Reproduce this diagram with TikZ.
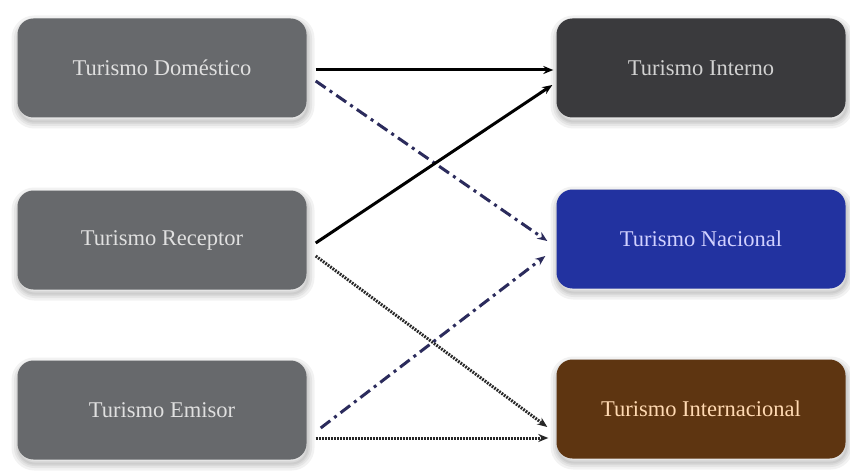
\documentclass[tikz,border=0pt]{standalone}
\usepackage{fontspec}
\setmainfont{Liberation Serif}
\usetikzlibrary{arrows.meta}
\definecolor{srcgray}{HTML}{67696C}
\definecolor{intdark}{HTML}{3A3A3D}
\definecolor{natblue}{HTML}{2232A0}
\definecolor{intbrown}{HTML}{5E3511}
\definecolor{navyline}{HTML}{2B2B5C}
\begin{document}
\begin{tikzpicture}[x=1pt,y=1pt,
  softshadow/.style={preaction={draw=black, line width=#1, draw opacity=0.05,
      transform canvas={xshift=1pt,yshift=-4pt}}},
  box/.style={rounded corners=16pt, minimum width=289pt, minimum height=99pt,
    inner sep=0pt, font=\fontsize{22.5}{26}\selectfont,
    softshadow=14pt, softshadow=9pt, softshadow=5pt, softshadow=2pt},
  srcbox/.style={box, fill=srcgray, text=white!88!black},
  tip/.style={-{Stealth[length=10pt,width=8pt]}},
  solidarrow/.style={tip, line width=3pt, black},
  dasharrow/.style={tip, line width=3pt, navyline,
    dash pattern=on 12pt off 5pt on 3pt off 5pt},
  dotarrow/.style={tip, line width=3pt, black!85,
    dash pattern=on 1.8pt off 1.2pt}
]
\useasboundingbox (0,0) rectangle (850,472);
\fill[white] (0,0) rectangle (850,472);

% source types (left column)
\node[srcbox] (dom) at (162,404) {Turismo Doméstico};
\node[srcbox] (rec) at (162,232) {Turismo Receptor};
\node[srcbox] (emi) at (162,62) {Turismo Emisor};

% resulting categories (right column)
\node[box, fill=intdark, text=white!82!black] (int) at (701,404) {Turismo Interno};
\node[box, fill=natblue, text=blue!18!white] (nac) at (701,233) {Turismo Nacional};
\node[box, fill=intbrown, text=orange!30!white] (inl) at (701,63) {Turismo Internacional};

% connectors
\draw[solidarrow] ([xshift=9pt,yshift=-2pt]dom.east) -- ([xshift=-3pt,yshift=-2pt]int.west);
\draw[dasharrow] ([xshift=9pt,yshift=-13pt]dom.east) -- ([xshift=-9pt,yshift=-2pt]nac.west);
\draw[solidarrow] ([xshift=9pt,yshift=-3pt]rec.east) -- ([xshift=-4pt,yshift=-17pt]int.west);
\draw[dotarrow] ([xshift=9pt,yshift=-16pt]rec.east) -- ([xshift=-9pt,yshift=-18pt]inl.west);
\draw[dasharrow] ([xshift=14pt,yshift=-18pt]emi.east) -- ([xshift=-11pt,yshift=-17pt]nac.west);
\draw[dotarrow] ([xshift=9pt,yshift=-28pt]emi.east) -- ([xshift=-8pt,yshift=-29pt]inl.west);
\end{tikzpicture}
\end{document}
